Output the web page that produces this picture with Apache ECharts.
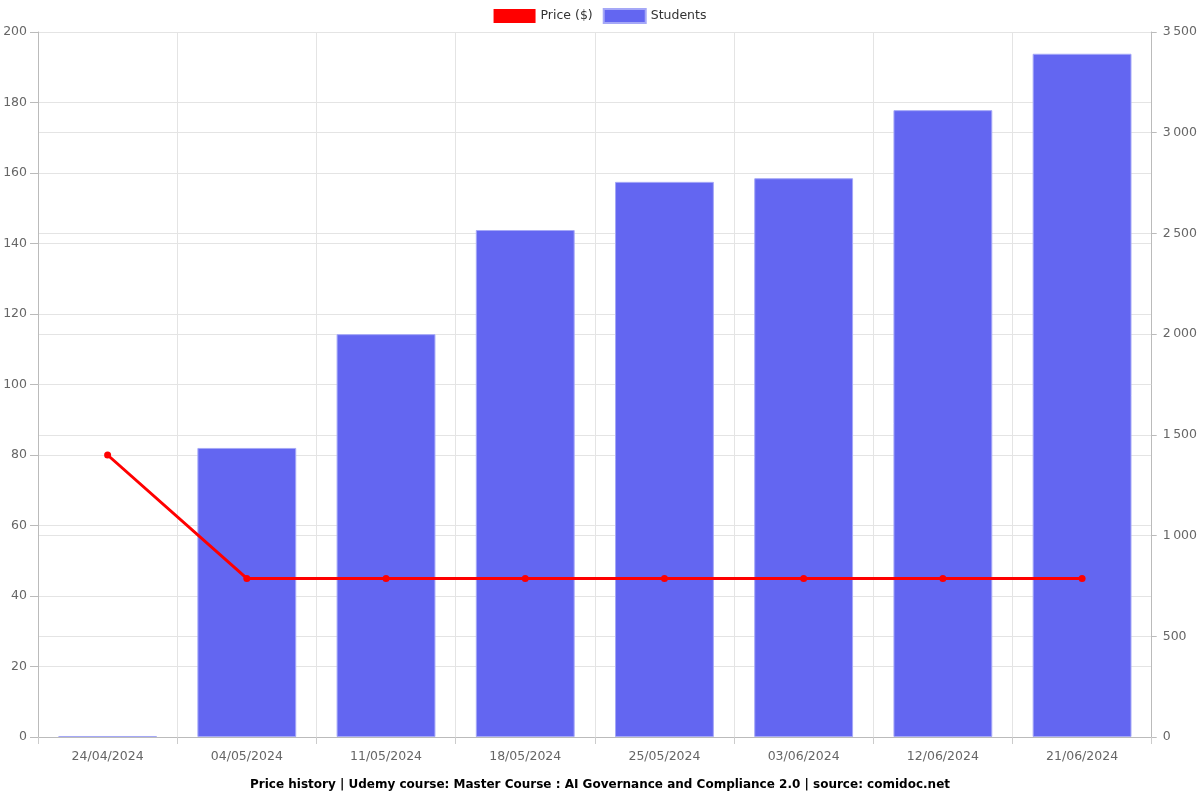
<!DOCTYPE html>
<html><head><meta charset="utf-8">
<script src="https://cdn.jsdelivr.net/npm/echarts@6/dist/echarts.min.js"></script>
<style>html,body{margin:0;padding:0;background:#fff}#c{width:1200px;height:800px}</style>
</head><body><div id="c"></div>
<script>
const categories = ['24/04/2024','04/05/2024','11/05/2024','18/05/2024','25/05/2024','03/06/2024','12/06/2024','21/06/2024'];
const priceValues = [80,45,45,45,45,45,45,45];
const studentValues = [5,1435,2000,2517,2756,2774,3112,3392];
const titleText = 'Price history | Udemy course: Master Course : AI Governance and Compliance 2.0 | source: comidoc.net';

const chart = echarts.init(document.getElementById('c'));
const fmt = v => String(v).replace(/\B(?=(\d{3})+(?!\d))/g, '\u2009');
chart.setOption({
  animation:false,
  textStyle:{fontFamily:'DejaVu Sans'},
  title:{text:titleText,left:'center',bottom:4,textStyle:{fontSize:12,fontWeight:'bold',color:'#000',fontFamily:'DejaVu Sans'}},
  legend:{top:3,left:'center',itemWidth:42,itemHeight:14,itemGap:10,textStyle:{fontSize:12.5,color:'#333'},
    data:[{name:'Price ($)',icon:'rect'},{name:'Students',icon:'rect'}]},
  grid:{left:38,right:48,top:32,bottom:63,containLabel:false},
  xAxis:{type:'category',data:categories,boundaryGap:true,
    axisLine:{lineStyle:{color:'#bbb'}},axisTick:{show:true,lineStyle:{color:'#ccc'},length:7},
    axisLabel:{color:'#666',fontSize:12.5,margin:13},
    splitLine:{show:true,lineStyle:{color:'#e4e4e4'}}},
  yAxis:[
    {type:'value',min:0,max:200,interval:20,position:'left',
     axisLine:{show:true,lineStyle:{color:'#bbb'}},axisTick:{show:true,length:8,lineStyle:{color:'#bbb'}},
     axisLabel:{color:'#666',fontSize:12.5,margin:11},splitLine:{lineStyle:{color:'#e4e4e4'}}},
    {type:'value',min:0,max:3500,interval:500,position:'right',
     axisLine:{show:true,lineStyle:{color:'#bbb'}},axisTick:{show:true,length:5,lineStyle:{color:'#bbb'}},
     axisLabel:{color:'#666',fontSize:12.5,margin:11,formatter:fmt},splitLine:{lineStyle:{color:'#e4e4e4'}}}
  ],
  series:[
    {name:'Price ($)',type:'line',yAxisIndex:0,data:priceValues,z:3,
     itemStyle:{color:'#ff0000'},lineStyle:{color:'#ff0000',width:3},symbol:'circle',symbolSize:7},
    {name:'Students',type:'bar',yAxisIndex:1,data:studentValues,barWidth:'71%',z:2,
     itemStyle:{color:'#6366f1',borderColor:'#a5a8f7',borderWidth:1}}
  ]
});
</script></body></html>
